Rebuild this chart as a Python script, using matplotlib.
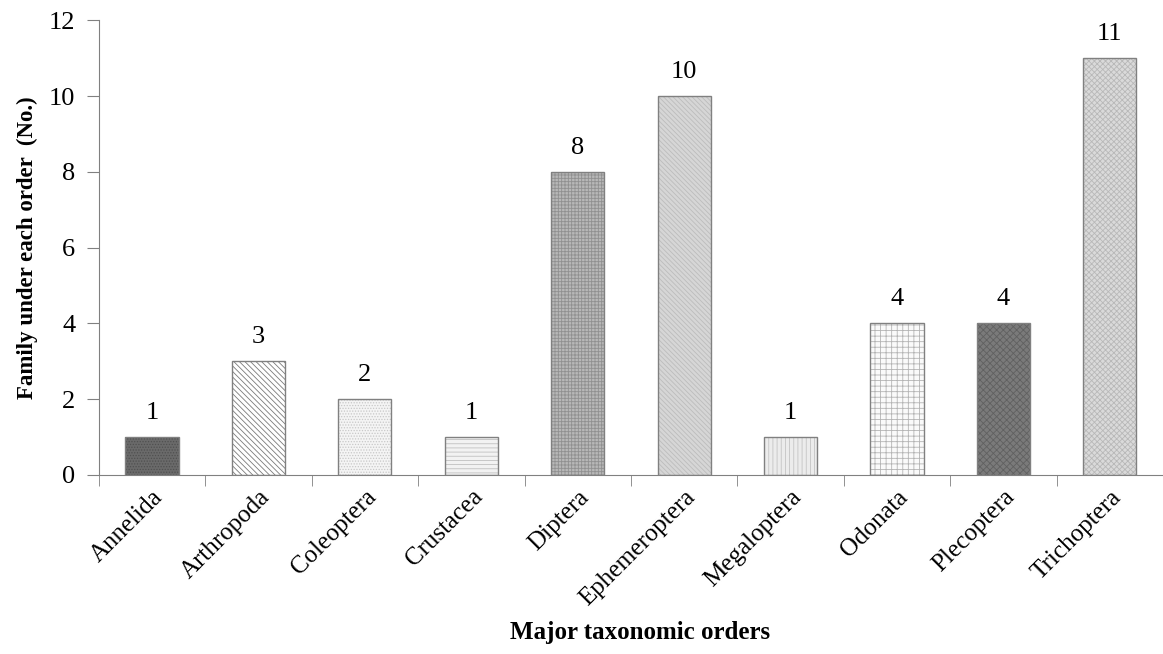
import matplotlib.pyplot as plt
import matplotlib as mpl

orders = ["Annelida", "Arthropoda", "Coleoptera", "Crustacea", "Diptera",
          "Ephemeroptera", "Megaloptera", "Odonata", "Plecoptera", "Trichoptera"]
families = [1, 3, 2, 1, 8, 10, 1, 4, 4, 11]

# fill, hatch colour, hatch pattern per bar (imitating the Excel pattern fills)
faces = ["#6a6a6a", "#ffffff", "#f4f4f4", "#f2f2f2", "#b8b8b8",
         "#d6d6d6", "#ececec", "#fafafa", "#7a7a7a", "#dadada"]
hatch_cols = ["#505050", "#7a7a7a", "#c8c8c8", "#c0c0c0", "#909090",
              "#bcbcbc", "#c4c4c4", "#b4b4b4", "#606060", "#b8b8b8"]
hatches = ["......", "\\\\\\\\\\\\", "......", "----", "+++++",
           "\\\\\\\\\\\\\\", "||||", "+++", "xxxxx", "xxxxxx"]

plt.rcParams['font.family'] = ['Liberation Serif', 'DejaVu Serif']
mpl.rcParams['hatch.linewidth'] = 0.6

fig = plt.figure(figsize=(11.63, 6.54), dpi=100)
ax = fig.add_axes([0.085, 0.274, 0.915, 0.695])

x = range(len(orders))
for i in x:
    mpl.rcParams['hatch.color'] = hatch_cols[i]
    ax.bar(i, families[i], width=0.5, color=faces[i], hatch=hatches[i],
           edgecolor=hatch_cols[i], linewidth=0)
    ax.bar(i, families[i], width=0.5, fill=False, edgecolor="#808080", linewidth=1)
    ax.text(i, families[i] + 0.35, str(families[i]), ha="center", va="bottom", fontsize=19)

ax.set_xlim(-0.5, 9.5)
ax.set_ylim(0, 12)
ax.set_yticks(range(0, 13, 2))
ax.set_xticks(list(x))
ax.set_xticklabels(orders, rotation=45, ha="right", rotation_mode="anchor", fontsize=18)
ax.set_xticks([i - 0.5 for i in range(11)], minor=True)
ax.tick_params(axis="x", which="major", length=0, pad=8)
ax.tick_params(axis="x", which="minor", length=8, color="#808080")
ax.tick_params(axis="y", length=9, color="#808080", labelsize=19, pad=8)

for s in ["top", "right"]:
    ax.spines[s].set_visible(False)
for s in ["left", "bottom"]:
    ax.spines[s].set_color("#808080")

ax.set_ylabel("Family under each order  (No.)", fontsize=16.5, fontweight="bold", labelpad=8)
fig.text(0.55, 0.015, "Major taxonomic orders", ha="center", va="bottom",
         fontsize=18, fontweight="bold")

fig.savefig("out.png", dpi=100)
